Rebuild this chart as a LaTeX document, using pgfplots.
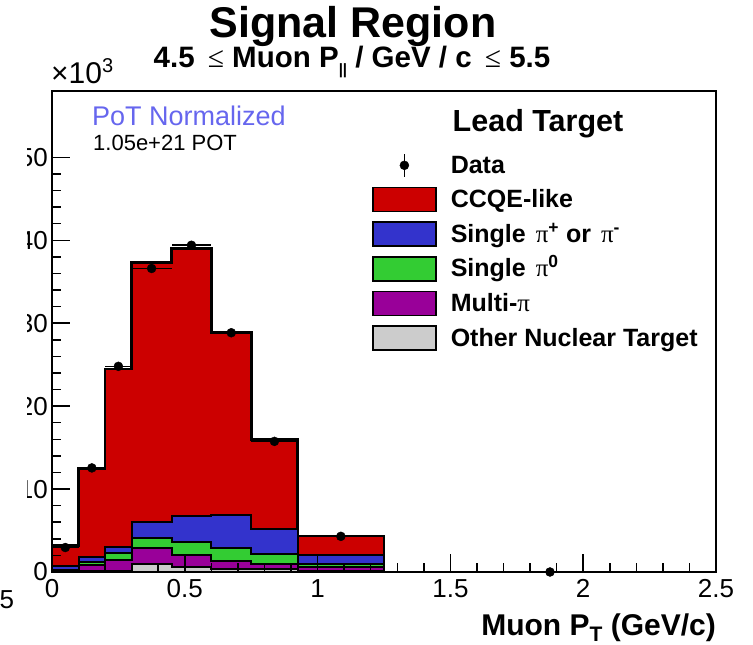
\documentclass[border=0pt]{standalone}
\usepackage{pgfplots}
\pgfplotsset{compat=1.18}
\usepackage{fontspec}
\setmainfont{Liberation Sans}
\newfontfamily\symf{Liberation Serif}
\definecolor{ccqe}{RGB}{204,0,0}
\definecolor{pipm}{RGB}{51,51,204}
\definecolor{pizero}{RGB}{51,204,51}
\definecolor{multipi}{RGB}{153,0,153}
\definecolor{othernuc}{RGB}{204,204,204}
\definecolor{potblue}{RGB}{102,102,238}
\newcommand{\fs}[1]{\fontsize{#1}{#1}\selectfont}
\newcommand{\ppi}{{\mdseries\symf π}}
\newcommand{\leqs}{{\mdseries\symf ≤}}
\begin{document}
\begin{tikzpicture}
\useasboundingbox (0pt,0pt) rectangle (753pt,645pt);
% label of the neighbouring panel
\node[anchor=base west, inner sep=0pt, font=\fs{26}] at (-0.5pt,36pt) {5};
% titles
\node[anchor=base, inner sep=0pt, font=\bfseries\fs{43}] at (353pt,607pt) {Signal Region};
\node[anchor=base, inner sep=0pt, font=\bfseries\fs{29.5}] at (352pt,577pt)
  {4.5 \,\leqs\ Muon P\raisebox{-7pt}{\fs{15}||} / GeV / c \,\leqs\ 5.5};
\begin{scope}
\clip (27pt,0pt) rectangle (753pt,645pt);
\begin{axis}[
  at={(52pt,73pt)}, anchor=south west,
  width=664pt, height=481pt, scale only axis,
  xmin=0, xmax=2.5, ymin=0, ymax=58,
  axis on top,
  axis line style={line width=1.8pt},
  tick style={black, line width=1.5pt},
  major tick length=18pt, minor tick length=9pt,
  tick align=inside,
  xtick pos=left, ytick pos=left,
  xtick={0,0.5,1,1.5,2,2.5}, minor x tick num=4,
  ytick={0,10,20,30,40,50}, minor y tick num=4,
  scaled y ticks=false,
  /pgf/number format/assume math mode=true,
  ticklabel style={font=\fs{26}},
  xticklabel style={inner sep=0pt, anchor=north, yshift=-7pt},
  yticklabel style={inner sep=0pt, anchor=east, xshift=-4pt},
  xlabel={Muon P\raisebox{-6pt}{\fs{21}T} (GeV/c)},
  xlabel style={font=\bfseries\fs{30}, inner sep=0pt, at={(axis description cs:1,0)}, anchor=base east, yshift=-64pt},
  legend cell align=left,
  legend style={draw=none, fill=none, inner sep=0pt, outer sep=0pt,
    at={(axis description cs:0.4819,0.8711)}, anchor=north west,
    font=\bfseries\fs{25}, row sep=8.9pt, column sep=14pt,
    nodes={inner sep=0pt, text height=20pt, text depth=4pt}},
  area legend,
  legend image code/.code={\draw[#1, line width=1.8pt] (0pt,-12pt) rectangle (63pt,12pt);},
]
\addlegendimage{legend image code/.code={%
  \draw[black, line width=1.6pt] (31.5pt,-11.5pt)--(31.5pt,11.5pt);
  \fill[black] (31.5pt,0pt) circle (4.5pt);}}
\addlegendentry{Data}
% CCQE-like (top of the stack: full total)
\addplot[const plot, fill=ccqe, draw=black, line width=2.6pt] coordinates
 {(0,3.2)(0.1,12.5)(0.2,24.5)(0.3,37.3)(0.45,39.0)(0.6,28.85)(0.75,15.95)(0.925,4.35)(1.25,4.35)} \closedcycle;
\addlegendentry{CCQE-like}
% Single pi+/- (cumulative)
\addplot[const plot, fill=pipm, draw=black, line width=2pt] coordinates
 {(0,0.7)(0.1,1.85)(0.2,3.05)(0.3,6.05)(0.45,6.75)(0.6,6.9)(0.75,5.18)(0.925,2.1)(1.25,2.1)} \closedcycle;
\addlegendentry{Single\hspace{10pt}\ppi\textsuperscript{+} or \hspace{3pt}\ppi\textsuperscript{-}}
% Single pi0 (cumulative)
\addplot[const plot, fill=pizero, draw=black, line width=2pt] coordinates
 {(0,0.3)(0.1,1.15)(0.2,2.25)(0.3,4.05)(0.45,3.6)(0.6,2.9)(0.75,2.16)(0.925,0.97)(1.25,0.97)} \closedcycle;
\addlegendentry{Single\hspace{10pt}\ppi\textsuperscript{0}}
% Multi-pi (cumulative)
\addplot[const plot, fill=multipi, draw=black, line width=2pt] coordinates
 {(0,0.2)(0.1,0.85)(0.2,1.5)(0.3,2.9)(0.45,2.05)(0.6,1.35)(0.75,0.97)(0.925,0.64)(1.25,0.64)} \closedcycle;
\addlegendentry{Multi-\ppi}
% Other nuclear target
\addplot[const plot, fill=othernuc, draw=black, line width=2pt] coordinates
 {(0,0.05)(0.1,0.1)(0.2,0.15)(0.3,1.0)(0.45,0.55)(0.6,0.35)(0.75,0.35)(0.925,0.12)(1.25,0.12)} \closedcycle;
\addlegendentry{Other Nuclear Target}
% Data
\addplot[forget plot, only marks, mark=*, mark size=4.5pt, black,
  error bars/.cd, x dir=both, x explicit, y dir=both, y explicit,
  error bar style={line width=1.6pt, black}, error mark=none]
  table[x=x, y=y, x error=ex, y error=ey] {
x      y      ex      ey
0.05   2.95   0.05    0.06
0.15   12.55  0.05    0.11
0.25   24.8   0.05    0.16
0.375  36.6   0.075   0.19
0.525  39.4   0.075   0.20
0.675  28.85  0.075   0.17
0.8375 15.75  0.0875  0.13
1.0875 4.3    0.1625  0.07
1.875  0.0    0.625   0.0
};
\end{axis}
\end{scope}
% annotations
\node[anchor=base west, inner sep=0pt, font=\fs{30}] at (51pt,561pt) {×10\raisebox{11pt}{\fs{20}3}};
\node[anchor=base west, inner sep=0pt, font=\fs{27}, text=potblue] at (92pt,519pt) {PoT Normalized};
\node[anchor=base west, inner sep=0pt, font=\fs{22}] at (93pt,494pt) {1.05e+21 POT};
\node[anchor=base, inner sep=0pt, font=\bfseries\fs{30.5}] at (538pt,513pt) {Lead Target};
\end{tikzpicture}
\end{document}
